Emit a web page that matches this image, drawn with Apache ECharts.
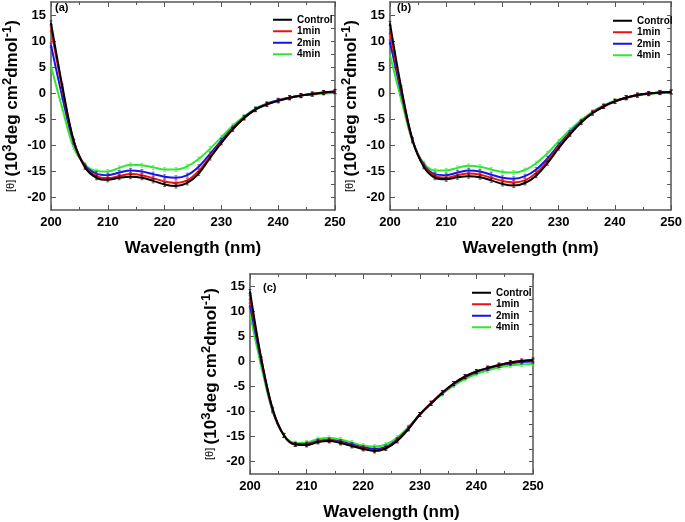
<!DOCTYPE html>
<html>
<head>
<meta charset="utf-8">
<script src="https://cdn.jsdelivr.net/npm/echarts@6/dist/echarts.min.js"></script>
<style>html,body{margin:0;padding:0;background:#fff}#c{width:685px;height:522px}</style>
</head>
<body>
<div id="c"></div>
<script>
const wavelengths = [200,202,204,206,208,210,212,214,216,218,220,222,224,226,228,230,232,234,236,238,240,242,244,246,248,250];
const seriesNames = ['Control','1min','2min','4min'];
const panelLabels = ['(a)','(b)','(c)'];
const xTicks = [200,210,220,230,240,250];
const yTicks = [-20,-15,-10,-5,0,5,10,15];

// Panel (a)
const a_control = [13.5,1.3,-9.2,-14.3,-16.3,-16.7,-16.3,-16.1,-16.3,-16.9,-17.6,-17.9,-17.3,-15.5,-12.5,-9.6,-7.0,-4.8,-3.2,-2.2,-1.5,-0.9,-0.5,-0.2,0.1,0.3];
const a_1min    = [12.3,0.8,-9.3,-14.2,-16.0,-16.4,-16.0,-15.6,-15.8,-16.4,-17.0,-17.3,-16.8,-15.0,-12.2,-9.4,-6.9,-4.8,-3.2,-2.2,-1.5,-0.9,-0.5,-0.2,0.1,0.3];
const a_2min    = [9.2,-0.8,-9.5,-14.0,-15.5,-15.8,-15.3,-14.9,-15.1,-15.6,-16.1,-16.3,-15.8,-14.2,-11.7,-9.1,-6.7,-4.7,-3.1,-2.1,-1.4,-0.9,-0.5,-0.2,0.1,0.2];
const a_4min    = [5.2,-3.0,-10.5,-13.8,-15.0,-15.1,-14.4,-13.8,-13.9,-14.3,-14.7,-14.7,-14.1,-12.7,-10.7,-8.5,-6.3,-4.5,-3.0,-2.0,-1.4,-0.9,-0.5,-0.3,-0.1,0.0];

// Panel (b)
const b_control = [13.4,1.0,-9.0,-14.2,-16.3,-16.6,-16.2,-16.0,-16.2,-16.8,-17.5,-17.8,-17.3,-15.9,-13.5,-10.6,-8.0,-5.7,-3.9,-2.6,-1.6,-0.9,-0.4,-0.1,0.1,0.2];
const b_1min    = [11.8,0.6,-9.1,-14.0,-16.0,-16.3,-15.8,-15.5,-15.7,-16.3,-16.9,-17.2,-16.8,-15.4,-13.1,-10.3,-7.8,-5.6,-3.8,-2.6,-1.6,-0.9,-0.4,-0.1,0.1,0.2];
const b_2min    = [9.8,0.0,-9.1,-13.8,-15.6,-15.8,-15.3,-14.9,-15.1,-15.7,-16.3,-16.5,-16.0,-14.7,-12.6,-10.0,-7.6,-5.5,-3.8,-2.5,-1.6,-0.9,-0.4,-0.1,0.1,0.2];
const b_4min    = [7.3,-1.3,-9.3,-13.5,-14.9,-14.9,-14.4,-14.0,-14.2,-14.7,-15.2,-15.3,-14.8,-13.5,-11.6,-9.3,-7.1,-5.2,-3.6,-2.4,-1.5,-0.9,-0.5,-0.2,0.0,0.1];

// Panel (c)
const c_control = [14.0,0.5,-9.5,-14.8,-16.6,-16.7,-16.1,-15.9,-16.3,-16.9,-17.5,-17.9,-17.4,-15.9,-13.5,-10.6,-8.4,-6.2,-4.4,-3.0,-2.0,-1.3,-0.7,-0.2,0.1,0.3];
const c_1min    = [12.8,0.4,-9.6,-14.8,-16.6,-16.6,-16.0,-15.8,-16.2,-16.8,-17.4,-17.8,-17.3,-15.8,-13.4,-10.6,-8.3,-6.2,-4.4,-3.0,-2.0,-1.3,-0.7,-0.2,0.1,0.3];
const c_2min    = [11.3,0.0,-9.8,-14.8,-16.5,-16.5,-15.9,-15.7,-16.0,-16.6,-17.2,-17.5,-17.1,-15.6,-13.3,-10.6,-8.3,-6.3,-4.5,-3.1,-2.1,-1.4,-0.8,-0.4,-0.1,0.0];
const c_4min    = [9.5,-1.0,-10.0,-14.7,-16.3,-16.2,-15.5,-15.3,-15.6,-16.2,-16.8,-17.0,-16.6,-15.2,-13.1,-10.6,-8.4,-6.5,-4.8,-3.5,-2.5,-1.8,-1.2,-0.8,-0.6,-0.5];

const panels = [
  [a_control, a_1min, a_2min, a_4min],
  [b_control, b_1min, b_2min, b_4min],
  [c_control, c_1min, c_2min, c_4min]
];
const colors = ['#000000','#ee1111','#1414e6','#2fe82f'];
const FONT = 'Arial, "Liberation Sans", sans-serif';
const AX = '#555';

const grids = [
  {left: 50, top: 2, width: 285, height: 208},
  {left: 390, top: 2, width: 283, height: 208},
  {left: 250, top: 274, width: 283, height: 208}
];

const xAxes = [], yAxes = [], series = [], legends = [], graphics = [];
const legendPos = [{left: 268, top: 9}, {left: 608, top: 10}, {left: 467, top: 282}];
const labelPos = [{x: 55, y: 2}, {x: 397, y: 2}, {x: 263, y: 282}];

grids.forEach((g, p) => {
  xAxes.push({
    type: 'value', gridIndex: p, min: 200, max: 250, interval: 10, position: 'bottom',
    axisLine: {onZero: false, lineStyle: {color: AX, width: 1.5}},
    axisTick: {inside: true, length: 5, lineStyle: {color: AX}},
    minorTick: {show: true, splitNumber: 2, length: 3, lineStyle: {color: AX}},
    splitLine: {show: false},
    axisLabel: {color: '#000', fontWeight: 'bold', fontSize: 13, fontFamily: FONT, margin: 6},
    name: 'Wavelength (nm)', nameLocation: 'middle', nameGap: 30,
    nameTextStyle: {color: '#000', fontWeight: 'bold', fontSize: 17, fontFamily: FONT}
  });
  xAxes.push({
    type: 'value', gridIndex: p, min: 200, max: 250, interval: 10, position: 'top',
    axisLine: {onZero: false, lineStyle: {color: AX, width: 1.5}},
    axisTick: {inside: true, length: 5, lineStyle: {color: AX}},
    minorTick: {show: true, splitNumber: 2, length: 3, lineStyle: {color: AX}},
    splitLine: {show: false}, axisLabel: {show: false}
  });
  yAxes.push({
    type: 'value', gridIndex: p, min: -22.5, max: 17.5, position: 'left',
    axisLine: {onZero: false, lineStyle: {color: AX, width: 1.5}},
    axisTick: {inside: true, length: 5, lineStyle: {color: AX}, customValues: yTicks},
    splitLine: {show: false},
    axisLabel: {color: '#000', fontWeight: 'bold', fontSize: 13, fontFamily: FONT, margin: 5, customValues: yTicks},
    name: '{t|[θ]} {b|(10}{s|3}{b|deg cm}{s|2}{b|dmol}{s|-1}{b|)}',
    nameLocation: 'middle', nameGap: 30, nameRotate: 90,
    nameTextStyle: {
      color: '#000', fontFamily: FONT,
      rich: {
        t: {fontSize: 11, fontFamily: FONT, color: '#000', lineHeight: 20, verticalAlign: 'middle'},
        b: {fontSize: 17, fontWeight: 'bold', fontFamily: FONT, color: '#000', lineHeight: 20, verticalAlign: 'bottom'},
        s: {fontSize: 13, fontWeight: 'bold', fontFamily: FONT, color: '#000', lineHeight: 20, verticalAlign: 'top'}
      }
    }
  });
  yAxes.push({
    type: 'value', gridIndex: p, min: -22.5, max: 17.5, position: 'right',
    axisLine: {onZero: false, lineStyle: {color: AX, width: 1.5}},
    axisTick: {inside: true, length: 4, lineStyle: {color: AX}, customValues: [-20,-17.5,-15,-12.5,-10,-7.5,-5,-2.5,0,2.5,5,7.5,10,12.5,15]},
    splitLine: {show: false}, axisLabel: {show: false}
  });
  panels[p].forEach((vals, i) => {
    series.push({
      name: seriesNames[i], type: 'line', xAxisIndex: 2 * p, yAxisIndex: 2 * p,
      data: wavelengths.map((w, k) => [w, vals[k]]),
      smooth: 0.35, showSymbol: true,
      symbol: 'path://M0 0H6M3 0V8M0 8H6', symbolSize: [3, 4],
      itemStyle: {color: colors[i], borderColor: colors[i], borderWidth: 0.7, opacity: 0.8},
      lineStyle: {color: colors[i], width: 2},
      z: 2 + (3 - i), animation: false
    });
  });
  legends.push({
    data: seriesNames, orient: 'vertical', left: legendPos[p].left, top: legendPos[p].top,
    icon: 'rect', itemWidth: 19, itemHeight: 2, itemGap: 0,
    itemStyle: {borderWidth: 0, opacity: 1},
    textStyle: {fontSize: 10, fontWeight: 'bold', fontFamily: FONT, color: '#000', lineHeight: 11.5},
    selectedMode: false
  });
  graphics.push({
    type: 'text', left: labelPos[p].x, top: labelPos[p].y,
    style: {text: panelLabels[p], font: 'bold 11px ' + FONT, fill: '#000'}
  });
});

const chart = echarts.init(document.getElementById('c'), null, {renderer: 'canvas'});
chart.setOption({
  backgroundColor: '#fff',
  animation: false,
  grid: grids,
  xAxis: xAxes,
  yAxis: yAxes,
  legend: legends,
  series: series,
  graphic: graphics
});
</script>
</body>
</html>
